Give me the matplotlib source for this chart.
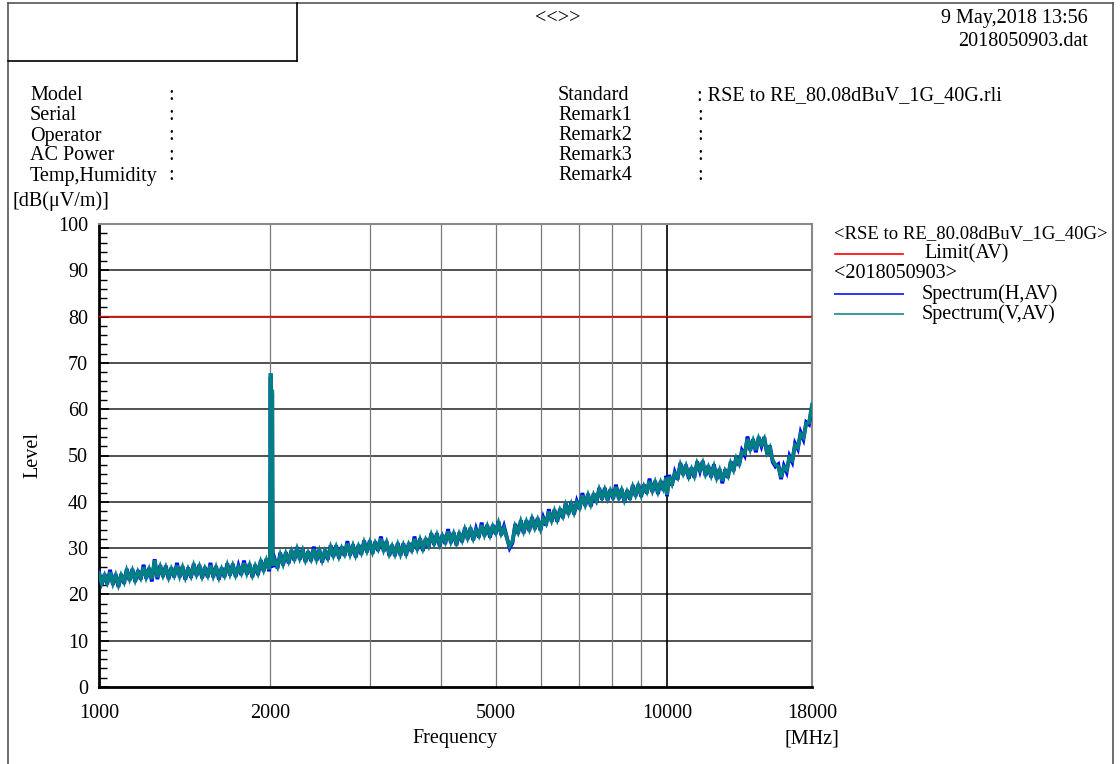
import matplotlib
matplotlib.use("Agg")
import matplotlib.pyplot as plt
from matplotlib.lines import Line2D
from matplotlib.ticker import FixedLocator, NullFormatter, NullLocator

plt.rcParams['font.family'] = ['Liberation Serif', 'DejaVu Serif']

# ---------------- data ----------------
freq_mhz = [
    1000, 1011, 1023, 1034, 1046, 1058, 1070, 1082, 1094, 1107, 1119, 1132,
    1145, 1158, 1171, 1184, 1198, 1211, 1225, 1239, 1253, 1267, 1282, 1296,
    1311, 1326, 1341, 1356, 1372, 1387, 1403, 1419, 1435, 1452, 1468, 1485,
    1502, 1519, 1536, 1554, 1571, 1589, 1607, 1626, 1644, 1663, 1682, 1701,
    1720, 1740, 1760, 1780, 1800, 1821, 1841, 1862, 1884, 1905, 1927, 1949,
    1971, 1993, 2000, 2005, 2010, 2015, 2018, 2022,
    2039, 2062, 2085, 2109, 2133, 2157, 2182, 2207, 2232, 2257,
    2283, 2309, 2335, 2362, 2389, 2416, 2443, 2471, 2499, 2528, 2557, 2586,
    2615, 2645, 2675, 2706, 2737, 2768, 2799, 2831, 2864, 2896, 2929, 2963,
    2997, 3031, 3065, 3100, 3136, 3171, 3208, 3244, 3281, 3319, 3357, 3395,
    3434, 3473, 3512, 3552, 3593, 3634, 3675, 3717, 3760, 3803, 3846, 3890,
    3934, 3979, 4024, 4070, 4117, 4164, 4211, 4259, 4308, 4357, 4407, 4457,
    4508, 4559, 4611, 4664, 4717, 4771, 4825, 4880, 4936, 4992, 5049, 5107,
    5165, 5224, 5284, 5344, 5405, 5467, 5529, 5592, 5656, 5721, 5786, 5852,
    5919, 5986, 6055, 6124, 6194, 6264, 6336, 6408, 6481, 6555, 6630, 6706,
    6782, 6860, 6938, 7017, 7097, 7178, 7260, 7343, 7427, 7511, 7597, 7684,
    7771, 7860, 7950, 8040, 8132, 8225, 8319, 8413, 8509, 8607, 8705, 8804,
    8904, 9006, 9109, 9212, 9317, 9424, 9531, 9640, 9750, 9861, 9974, 10000,
    10088, 10203, 10320, 10437, 10556, 10677, 10799, 10922, 11046, 11172, 11300, 11429,
    11559, 11691, 11824, 11959, 12095, 12233, 12373, 12514, 12657, 12801, 12947, 13095,
    13244, 13395, 13548, 13702, 13859, 14017, 14176, 14338, 14502, 14667, 14834, 15004,
    15175, 15348, 15523, 15700, 15879, 16060, 16243, 16428, 16615, 16805, 16996,
    17190, 17386, 17584, 17785, 18000,
]

spectrum_h = [
    25.0, 22.0, 24.4, 22.2, 25.3, 22.1, 24.4, 21.6, 24.4, 22.3, 25.5, 23.0,
    25.5, 22.7, 25.2, 23.2, 26.4, 23.4, 25.7, 22.8, 27.6, 23.3, 26.3, 23.8,
    26.2, 23.3, 25.8, 23.7, 26.8, 23.7, 26.1, 23.2, 25.8, 23.6, 26.6, 24.0,
    26.4, 23.5, 25.9, 23.7, 26.8, 23.7, 26.1, 23.2, 25.8, 23.7, 26.7, 24.1,
    26.6, 23.8, 26.2, 24.2, 27.3, 24.3, 26.6, 23.7, 26.4, 24.2, 27.4, 25.0,
    27.7, 25.0, 26.4, 67.0, 25.8, 27.6, 63.5, 25.9,
    27.6, 25.6, 29.0, 26.3, 29.1, 26.7, 29.6, 27.3, 30.2, 27.5,
    29.9, 27.0, 29.3, 27.2, 30.3, 27.3, 29.7, 26.9, 29.6, 27.5, 30.6, 28.1,
    30.6, 27.8, 30.3, 28.3, 31.5, 28.4, 30.8, 28.0, 30.7, 28.6, 31.6, 29.1,
    31.6, 28.8, 31.4, 29.4, 32.5, 29.3, 31.5, 28.3, 30.7, 28.3, 31.1, 28.4,
    31.0, 28.4, 31.1, 29.2, 32.5, 29.6, 32.1, 29.4, 32.1, 30.1, 33.2, 30.7,
    33.2, 30.4, 32.9, 30.9, 34.1, 31.1, 33.4, 30.6, 33.4, 31.3, 34.4, 31.9,
    34.4, 31.7, 34.2, 32.3, 35.5, 32.6, 35.0, 32.3, 35.0, 33.0, 35.8, 32.8,
    34.7, 32.4, 30.0, 31.1, 35.2, 33.1, 36.0, 33.2, 36.0, 33.7, 36.7, 34.1,
    36.5, 33.8, 36.6, 34.9, 38.4, 35.7, 38.3, 35.7, 38.5, 36.5, 39.7, 37.3,
    39.9, 37.3, 40.1, 38.4, 41.9, 39.1, 41.7, 39.0, 41.8, 39.8, 43.0, 40.5,
    43.0, 40.3, 42.7, 40.6, 43.7, 40.6, 42.8, 39.9, 42.5, 40.5, 43.6, 41.2,
    43.8, 41.1, 43.7, 41.8, 45.0, 42.1, 44.5, 41.7, 44.5, 42.4, 45.6, 41.2,
    45.8, 43.5, 46.4, 44.8, 48.4, 45.8, 48.0, 45.0, 47.4, 45.2, 48.7, 46.6,
    48.8, 45.6, 47.8, 45.3, 48.1, 44.9, 47.1, 44.0, 47.0, 45.2, 48.7, 46.6,
    49.8, 47.8, 51.1, 50.0, 54.1, 51.1, 53.5, 50.7, 54.0, 52.0, 54.0, 50.3,
    52.1, 48.6, 47.6, 48.1, 44.9, 47.8, 46.4, 49.9, 48.6, 52.6, 51.4,
    55.0, 53.5, 57.2, 56.7, 60.6,
]

spectrum_v = [
    24.6, 22.4, 24.1, 22.6, 24.8, 22.4, 24.1, 22.1, 24.1, 22.7, 25.1, 23.3,
    25.1, 23.1, 24.9, 23.6, 25.9, 23.7, 25.4, 23.3, 27.4, 23.7, 25.9, 24.1,
    25.8, 23.7, 25.5, 24.1, 26.3, 24.0, 25.8, 23.7, 25.5, 24.0, 26.2, 24.3,
    26.0, 23.9, 25.6, 24.1, 26.3, 24.0, 25.8, 23.7, 25.5, 24.1, 26.3, 24.4,
    26.2, 24.2, 25.9, 24.6, 26.8, 24.6, 26.3, 24.2, 26.1, 24.6, 27.0, 25.3,
    27.3, 25.4, 26.9, 67.8, 26.2, 27.4, 64.2, 26.3,
    27.3, 26.0, 28.5, 26.6, 28.8, 27.2, 29.3, 27.7, 29.8, 27.8,
    29.5, 27.4, 29.0, 27.6, 29.8, 27.6, 29.4, 27.4, 29.3, 27.9, 30.2, 28.4,
    30.2, 28.2, 30.0, 28.7, 31.0, 28.7, 30.5, 28.5, 30.4, 29.0, 31.2, 29.4,
    31.2, 29.2, 31.1, 29.8, 32.0, 29.6, 31.2, 28.8, 30.4, 28.7, 30.7, 28.7,
    30.6, 28.8, 30.8, 29.6, 32.0, 29.9, 31.8, 29.9, 31.8, 30.5, 32.8, 31.0,
    32.8, 30.8, 32.6, 31.3, 33.6, 31.4, 33.1, 31.1, 33.1, 31.7, 34.0, 32.2,
    34.0, 32.1, 33.9, 32.7, 35.0, 32.9, 34.7, 32.8, 34.7, 33.4, 35.4, 33.1,
    34.3, 32.1, 30.4, 31.5, 34.7, 33.4, 35.7, 33.7, 35.7, 34.1, 36.3, 34.4,
    36.1, 34.2, 36.3, 35.3, 37.9, 36.0, 38.0, 36.2, 38.2, 36.9, 39.3, 37.6,
    39.5, 37.7, 39.8, 38.8, 41.4, 39.4, 41.4, 39.5, 41.5, 40.2, 42.6, 40.8,
    42.6, 40.7, 42.4, 41.0, 43.2, 40.9, 42.5, 40.4, 42.2, 40.9, 43.2, 41.5,
    43.4, 41.5, 43.4, 42.2, 44.5, 42.4, 44.2, 42.2, 44.2, 42.8, 45.2, 41.5,
    45.4, 43.9, 46.1, 45.2, 47.9, 46.1, 47.7, 45.5, 47.1, 45.6, 48.3, 46.9,
    48.4, 46.0, 47.5, 45.7, 47.6, 45.2, 46.8, 44.5, 46.7, 45.6, 48.3, 46.9,
    49.4, 48.2, 50.8, 50.4, 53.6, 51.4, 53.2, 51.2, 53.7, 52.4, 53.6, 50.6,
    51.7, 49.0, 48.0, 47.6, 45.3, 47.5, 46.9, 49.6, 49.0, 52.2, 51.7,
    54.6, 53.9, 56.9, 57.1, 61.0,
]

limit_freq = [1000, 18000]
limit_level = [80.08, 80.08]

x_tick_values = [1000, 2000, 5000, 10000, 18000]
x_tick_labels = ["1000", "2000", "5000", "10000", "18000"]
x_grid_minor = [2000, 3000, 4000, 5000, 6000, 7000, 8000, 9000]
x_grid_major = [10000]
y_ticks = [0, 10, 20, 30, 40, 50, 60, 70, 80, 90, 100]

left_labels = ["Model", "Serial", "Operator", "AC Power", "Temp,Humidity"]
right_labels = ["Standard", "Remark1", "Remark2", "Remark3", "Remark4"]
right_values = ["RSE to RE_80.08dBuV_1G_40G.rli", "", "", "", ""]

# ---------------- figure ----------------
W, H = 1120, 764
fig = plt.figure(figsize=(W / 100, H / 100), dpi=100)
fig.patch.set_facecolor("white")

def fx(px):
    return px / W

def fy(py):
    return 1 - py / H

FS = 14.5

def ftext(px, py, s, **kw):
    kw.setdefault("fontsize", FS)
    kw.setdefault("va", "center")
    return fig.text(fx(px), fy(py), s, **kw)

def fline(x0, y0, x1, y1, color="black", lw=1.0):
    fig.add_artist(Line2D([fx(x0), fx(x1)], [fy(y0), fy(y1)], color=color, lw=lw,
                          transform=fig.transFigure))

# outer frame
fline(8, 3, 1113, 3, color="#555555", lw=1.2)
fline(8, 3, 8, 764, color="#555555", lw=1.2)
fline(1113, 3, 1113, 764, color="#555555", lw=1.2)
# top-left box
fline(8, 61, 297, 61, color="black", lw=1.2)
fline(297, 3, 297, 61, color="black", lw=1.2)

# header texts
ftext(558, 18, "<<>>", ha="center")
ftext(1088, 19, "9 May,2018 13:56", ha="right")
ftext(1088, 41, "2018050903.dat", ha="right")

for i, lab in enumerate(left_labels):
    y = 96 + 20 * i
    ftext(30, y, lab, ha="left")
    ftext(168, y, ":", ha="left")
for i, lab in enumerate(right_labels):
    y = 96 + 20 * i
    ftext(558, y, lab, ha="left")
    ftext(697, y, ":" + ((" " + right_values[i]) if right_values[i] else ""), ha="left")

ftext(13, 201, "[dB(\u03bcV/m)]", ha="left")

# ---------------- axes ----------------
ax = fig.add_axes([fx(99), fy(687), fx(812) - fx(99), fy(224) - fy(687)])
ax.set_xscale("log")
ax.set_xlim(1000, 18000)
ax.set_ylim(0, 100)

for v in y_ticks[1:-1]:
    ax.axhline(v, color="#222222", lw=1.1, zorder=1)
for v in x_grid_minor:
    ax.axvline(v, color="#7a7a7a", lw=0.9, zorder=1)
for v in x_grid_major:
    ax.axvline(v, color="black", lw=1.2, zorder=1)

ax.plot(limit_freq, limit_level, color="#ff0000", lw=1.0, zorder=3)
ax.plot(freq_mhz, spectrum_h, color="#0000ff", lw=2.7, zorder=4, solid_joinstyle="miter")
ax.plot(freq_mhz, spectrum_v, color="#008080", lw=2.7, zorder=5, solid_joinstyle="miter")

ax.xaxis.set_major_locator(FixedLocator(x_tick_values))
ax.set_xticklabels(x_tick_labels, fontsize=FS)
ax.xaxis.set_minor_locator(NullLocator())
ax.xaxis.set_minor_formatter(NullFormatter())
ax.tick_params(axis="x", length=0, pad=12)

ax.set_yticks(y_ticks)
ax.set_yticklabels([str(v) for v in y_ticks], fontsize=FS)
ax.set_yticks(list(range(0, 101, 2)), minor=True)
ax.tick_params(axis="y", which="major", direction="in", length=7, width=1.2, pad=8)
ax.tick_params(axis="y", which="minor", direction="in", length=6, width=1.0)

for side in ("left", "bottom"):
    ax.spines[side].set_color("black")
    ax.spines[side].set_linewidth(2.0)
for side in ("top", "right"):
    ax.spines[side].set_color("#888888")
    ax.spines[side].set_linewidth(1.5)

ftext(455, 739, "Frequency", ha="center")
ftext(812, 739, "[MHz]", ha="center")
ftext(33, 455, "Level", ha="center", rotation=90)

# legend (outside the axes on the right)
ftext(834, 234, "<RSE to RE_80.08dBuV_1G_40G>", ha="left", fontsize=13.5)
fline(835, 254, 903, 254, color="#ff0000", lw=1.2)
ftext(924, 254, "Limit(AV)", ha="left")
ftext(834, 274, "<2018050903>", ha="left")
fline(835, 294, 903, 294, color="#3030ff", lw=1.4)
ftext(922, 294, "Spectrum(H,AV)", ha="left")
fline(835, 314, 903, 314, color="#3a9a9a", lw=1.4)
ftext(922, 314, "Spectrum(V,AV)", ha="left")

fig.savefig("out.png", dpi=100, facecolor="white")
